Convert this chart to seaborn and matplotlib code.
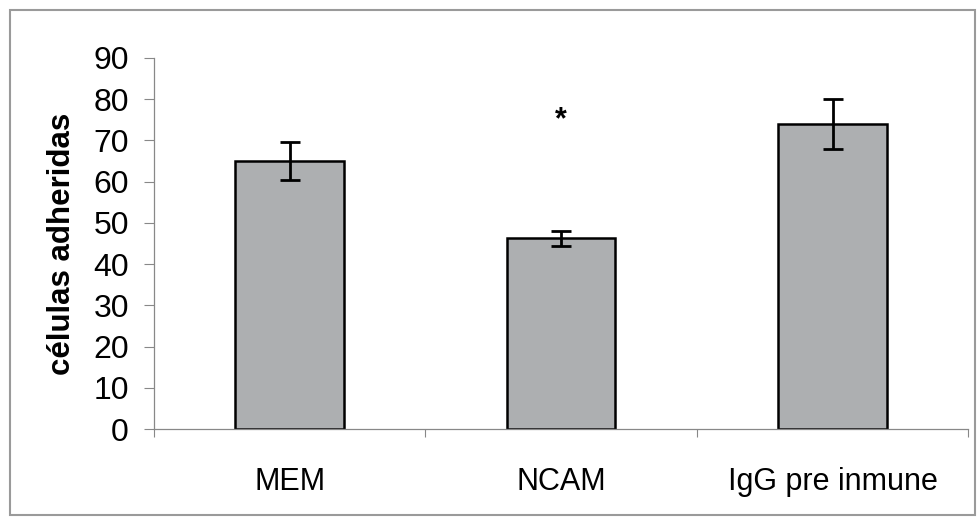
import numpy as np
import pandas as pd
import seaborn as sns
import matplotlib.pyplot as plt
from matplotlib.patches import Rectangle

# Data
grupos = ["MEM", "NCAM", "IgG pre inmune"]
celulas = [65.0, 46.3, 74.0]
error = [4.6, 1.8, 6.0]
y_ticks = [0, 10, 20, 30, 40, 50, 60, 70, 80, 90]

df = pd.DataFrame({"grupo": grupos, "celulas": celulas})

sns.set_style("white")
plt.rcParams["font.family"] = ["Liberation Sans", "DejaVu Sans"]
plt.rcParams["text.color"] = "black"
plt.rcParams["xtick.color"] = "black"
plt.rcParams["ytick.color"] = "black"
plt.rcParams["axes.labelcolor"] = "black"

fig = plt.figure(figsize=(9.8, 5.22), dpi=100)
ax = fig.add_axes([0.157, 0.178, 0.831, 0.711])

sns.barplot(data=df, x="grupo", y="celulas", color="#adafb1", width=0.4,
            edgecolor="black", linewidth=1.8, saturation=1, errorbar=None, ax=ax)
ax.errorbar(np.arange(len(grupos)), celulas, yerr=error, fmt="none",
            ecolor="black", elinewidth=2, capsize=7, capthick=2)

# significance mark
ax.text(1, 75, "*", ha="center", va="center", fontsize=22, fontweight="bold")

ax.set_ylim(0, 90)
ax.set_xlim(-0.5, 2.5)
ax.set_yticks(y_ticks)
ax.tick_params(axis="y", labelsize=23, length=7, width=0.8, color="#888888",
               labelcolor="black", direction="out", left=True, pad=11)
ax.tick_params(axis="x", labelsize=22, length=0, labelcolor="black", pad=27)
ax.set_xticks([-0.5, 0.5, 1.5, 2.5], minor=True)
ax.tick_params(axis="x", which="minor", length=6, width=0.8, color="#888888",
               direction="out", bottom=True)

ax.set_xlabel("")
ax.set_ylabel("células adheridas", fontsize=22.5, fontweight="bold", labelpad=12)

sns.despine(ax=ax)
for s in ["left", "bottom"]:
    ax.spines[s].set_color("#888888")
    ax.spines[s].set_linewidth(0.9)

# outer frame
fig.patches.append(Rectangle((0.010, 0.014), 0.985, 0.966, transform=fig.transFigure,
                             fill=False, edgecolor="#9a9a9a", linewidth=1.5))

fig.savefig("out.png", dpi=100)
